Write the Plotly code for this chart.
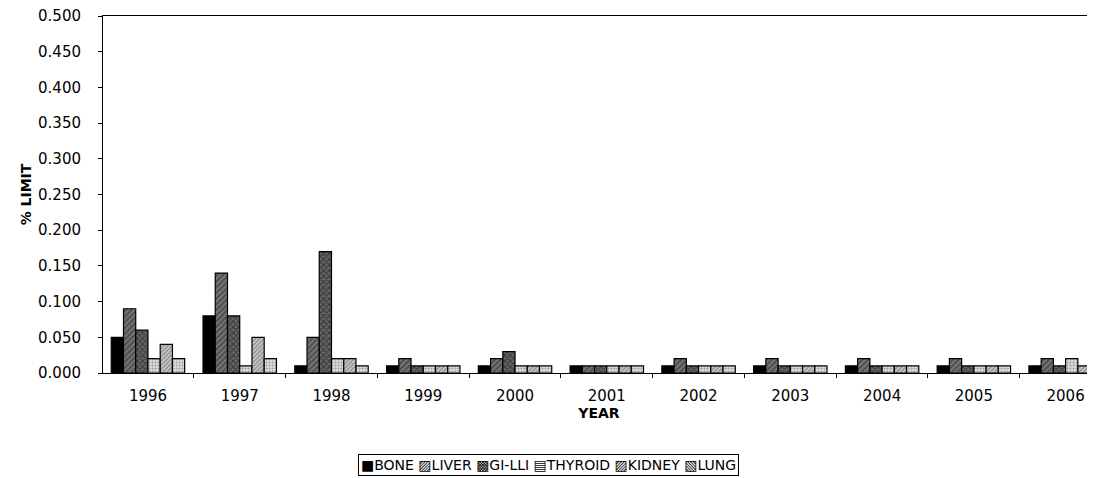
import plotly.graph_objects as go

years = ["1996", "1997", "1998", "1999", "2000", "2001", "2002", "2003", "2004", "2005", "2006"]
bone    = [0.05, 0.08, 0.01, 0.01, 0.01, 0.01, 0.01, 0.01, 0.01, 0.01, 0.01]
liver   = [0.09, 0.14, 0.05, 0.02, 0.02, 0.01, 0.02, 0.02, 0.02, 0.02, 0.02]
gi_lli  = [0.06, 0.08, 0.17, 0.01, 0.03, 0.01, 0.01, 0.01, 0.01, 0.01, 0.01]
thyroid = [0.02, 0.01, 0.02, 0.01, 0.01, 0.01, 0.01, 0.01, 0.01, 0.01, 0.02]
kidney  = [0.04, 0.05, 0.02, 0.01, 0.01, 0.01, 0.01, 0.01, 0.01, 0.01, 0.01]
lung    = [0.02, 0.02, 0.01, 0.01, 0.01, 0.01, 0.01, 0.01, 0.01, 0.01, 0.01]

series = [
    ("BONE", bone, "■", dict(color="black")),
    ("LIVER", liver, "▨", dict(color="white", pattern=dict(shape="/", fgcolor="#222", bgcolor="#777", size=4, solidity=0.5))),
    ("GI-LLI", gi_lli, "▩", dict(color="white", pattern=dict(shape="x", fgcolor="#111", bgcolor="#666", size=4, solidity=0.5))),
    ("THYROID", thyroid, "▤", dict(color="white", pattern=dict(shape=".", fgcolor="#555", bgcolor="#ddd", size=3, solidity=0.4))),
    ("KIDNEY", kidney, "▨", dict(color="white", pattern=dict(shape="/", fgcolor="#555", bgcolor="#ccc", size=3, solidity=0.5))),
    ("LUNG", lung, "▧", dict(color="white", pattern=dict(shape="+", fgcolor="#777", bgcolor="#ddd", size=3, solidity=0.4))),
]

fig = go.Figure()
for name, vals, sym, mk in series:
    fig.add_trace(go.Bar(
        x=years, y=vals, name=name,
        marker=dict(**mk, line=dict(color="black", width=1.2)),
    ))

font = dict(family="DejaVu Sans", color="black")
legend_text = " ".join(f"{sym}{name}" for name, _, sym, _ in series)

# page body has an 8px margin: figure is sized so that the plot lands at x 103-1095, y 16-373
fig.update_layout(
    width=1087, height=470,
    paper_bgcolor="white", plot_bgcolor="white",
    margin=dict(l=95, r=0, t=8, b=105),
    barmode="group", bargap=0.2, bargroupgap=0,
    font=dict(**font, size=14),
    showlegend=False,
    xaxis=dict(type="category", range=[-0.49, 10.32], showline=True, linecolor="black",
               linewidth=1, mirror=True, ticks="outside", tickson="boundaries", ticklen=4,
               tickcolor="black", showgrid=False, automargin=False, ticklabelstandoff=9,
               ticklabeloverflow="allow",
               title=dict(text="<b>YEAR</b>", font=dict(**font, size=14), standoff=1),
               tickfont=dict(**font, size=15)),
    yaxis=dict(range=[0, 0.5], dtick=0.05, tickformat=".3f", showline=True, linecolor="black",
               linewidth=1, ticks="outside", ticklen=4, tickcolor="black", showgrid=False,
               zeroline=False, automargin=False, ticklabelstandoff=14,
               ticklabeloverflow="allow",
               title=dict(text="<b>% LIMIT</b>", font=dict(**font, size=14), standoff=3),
               tickfont=dict(**font, size=15)),
    annotations=[dict(
        text=legend_text, xref="paper", yref="paper", x=0.4486, y=-0.258,
        xanchor="center", yanchor="middle", showarrow=False,
        font=dict(**font, size=14), bordercolor="black", borderwidth=1, borderpad=2,
        bgcolor="white",
    )],
)

fig.write_html("out.html")
